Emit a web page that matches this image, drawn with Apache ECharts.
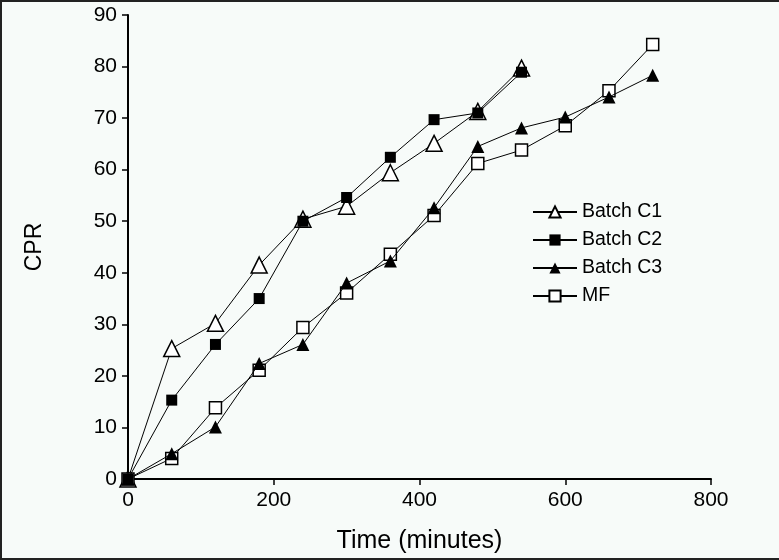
<!DOCTYPE html>
<html>
<head>
<meta charset="utf-8">
<script src="https://cdn.jsdelivr.net/npm/echarts@6/dist/echarts.min.js"></script>
<style>
  html, body { margin: 0; padding: 0; background: #f7fbf9; }
  #frame { position: absolute; left: 0; top: 0; width: 779px; height: 560px; box-sizing: border-box;
           border-left: 2px solid #222; border-top: 2px solid #222; border-bottom: 2px solid #222; }
  #chart { position: absolute; left: 0; top: 0; width: 779px; height: 560px; }
</style>
</head>
<body>
<div id="chart"></div>
<div id="frame"></div>
<script>
const timeShort = [0, 60, 120, 180, 240, 300, 360, 420, 480, 540];
const timeLong = [0, 60, 120, 180, 240, 300, 360, 420, 480, 540, 600, 660, 720];
const batchC1 = [0, 25.3, 30.2, 41.5, 50.4, 52.9, 59.4, 65.1, 71.3, 79.7];
const batchC2 = [0, 15.3, 26.1, 35.0, 50.0, 54.6, 62.4, 69.7, 71.0, 78.9];
const batchC3 = [0, 4.9, 10.1, 22.4, 26.1, 38.0, 42.3, 52.6, 64.5, 68.1, 70.2, 74.1, 78.3];
const mf = [0, 4.0, 13.8, 21.1, 29.4, 36.1, 43.6, 51.1, 61.2, 63.8, 68.5, 75.3, 84.3];
const xTicks = [0, 200, 400, 600, 800];
const yTicks = [0, 10, 20, 30, 40, 50, 60, 70, 80, 90];

const pair = (xs, ys) => xs.map((x, i) => [x, ys[i]]);
const FONT = '"Liberation Sans", Arial, sans-serif';

const chart = echarts.init(document.getElementById('chart'), null, { renderer: 'canvas' });
const baseLine = { color: '#000', width: 1 };
chart.setOption({
  backgroundColor: '#f7fbf9',
  animation: false,
  grid: { left: 128, right: 68, top: 15, bottom: 81 },
  xAxis: {
    type: 'value', min: xTicks[0], max: xTicks[xTicks.length - 1], interval: 200,
    name: 'Time (minutes)', nameLocation: 'middle', nameGap: 50,
    nameTextStyle: { fontFamily: FONT, fontSize: 25, color: '#000' },
    axisLine: { lineStyle: { color: '#000', width: 2 } },
    axisTick: { show: true, length: 6, lineStyle: { color: '#000', width: 1.5 } },
    axisLabel: { fontFamily: FONT, fontSize: 21, color: '#000', margin: 11 },
    splitLine: { show: false }
  },
  yAxis: {
    type: 'value', min: yTicks[0], max: yTicks[yTicks.length - 1], interval: 10,
    name: 'CPR', nameLocation: 'middle', nameGap: 82, nameRotate: 90,
    nameTextStyle: { fontFamily: FONT, fontSize: 23, color: '#000' },
    axisLine: { lineStyle: { color: '#000', width: 2 } },
    axisTick: { show: true, length: 6, lineStyle: { color: '#000', width: 1.5 } },
    axisLabel: { fontFamily: FONT, fontSize: 21, color: '#000', margin: 11 },
    splitLine: { show: false }
  },
  legend: {
    left: 527, top: 197, orient: 'vertical', itemGap: 8, itemWidth: 44, itemHeight: 14,
    textStyle: { fontFamily: FONT, fontSize: 19.5, color: '#000' },
    data: ['Batch C1', 'Batch C2', 'Batch C3', 'MF']
  },
  series: [
    { name: 'Batch C1', type: 'line', data: pair(timeShort, batchC1),
      symbol: 'triangle', symbolSize: 16, lineStyle: baseLine,
      itemStyle: { color: '#fff', borderColor: '#000', borderWidth: 1.5 }, z: 2 },
    { name: 'Batch C2', type: 'line', data: pair(timeShort, batchC2),
      symbol: 'rect', symbolSize: 11, lineStyle: baseLine,
      itemStyle: { color: '#000', borderColor: '#000', borderWidth: 0 }, z: 3 },
    { name: 'Batch C3', type: 'line', data: pair(timeLong, batchC3),
      symbol: 'triangle', symbolSize: 13, lineStyle: baseLine,
      itemStyle: { color: '#000', borderColor: '#000', borderWidth: 0 }, z: 4 },
    { name: 'MF', type: 'line', data: pair(timeLong, mf),
      symbol: 'rect', symbolSize: 12, lineStyle: baseLine,
      itemStyle: { color: '#fff', borderColor: '#000', borderWidth: 1.5 }, z: 2 }
  ]
});
</script>
</body>
</html>
